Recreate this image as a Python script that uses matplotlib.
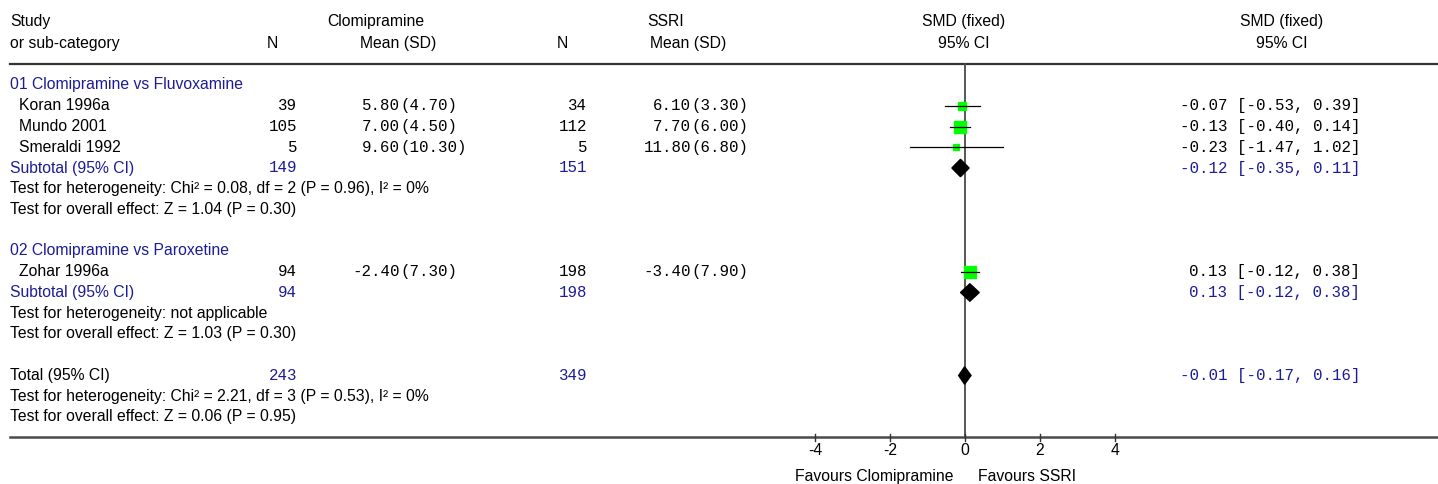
import matplotlib.pyplot as plt
import matplotlib.transforms as mtrans
import numpy as np

# ---- data ----
groups = ["01 Clomipramine vs Fluvoxamine", "02 Clomipramine vs Paroxetine"]
studies = ["Koran 1996a", "Mundo 2001", "Smeraldi 1992", "Zohar 1996a"]
study_group = [0, 0, 0, 1]
clomi_n = [39, 105, 5, 94]
clomi_mean = [5.80, 7.00, 9.60, -2.40]
clomi_sd = [4.70, 4.50, 10.30, 7.30]
ssri_n = [34, 112, 5, 198]
ssri_mean = [6.10, 7.70, 11.80, -3.40]
ssri_sd = [3.30, 6.00, 6.80, 7.90]
smd = [-0.07, -0.13, -0.23, 0.13]
smd_lo = [-0.53, -0.40, -1.47, -0.12]
smd_hi = [0.39, 0.14, 1.02, 0.38]

sub_smd = [-0.12, 0.13]
sub_lo = [-0.35, -0.12]
sub_hi = [0.11, 0.38]
sub_het = ["Test for heterogeneity: Chi\u00b2 = 0.08, df = 2 (P = 0.96), I\u00b2 = 0%",
           "Test for heterogeneity: not applicable"]
sub_eff = ["Test for overall effect: Z = 1.04 (P = 0.30)",
           "Test for overall effect: Z = 1.03 (P = 0.30)"]

total_smd, total_lo, total_hi = -0.01, -0.17, 0.16
total_het = "Test for heterogeneity: Chi\u00b2 = 2.21, df = 3 (P = 0.53), I\u00b2 = 0%"
total_eff = "Test for overall effect: Z = 0.06 (P = 0.95)"

ticks = [-4, -2, 0, 2, 4]

# ---- styling ----
W, H = 1438, 484
SANS = "Liberation Sans"
MONO = "Liberation Mono"
FS = 11.3
FM = 11.3
BLUE = "#1c1c96"
GREEN = "#00ff00"
GREY = "#4a4a4a"

# pixel layout -> plot units (1 SMD unit = 37.5 px, zero at x=965; 1 row = 20.75 px)
PX_UNIT, X0 = 37.5, 965
ROW_PX, Y0 = 20.75, 85

fig = plt.figure(figsize=(W / 100, H / 100), dpi=100)
ax = fig.add_axes([0, 0, 1, 1])
ax.set_xlim(-X0 / PX_UNIT, (W - X0) / PX_UNIT)
ax.set_ylim((H - Y0) / ROW_PX, -Y0 / ROW_PX)
ax.axis("off")

# x in pixels (axes fraction), y in rows
tr = mtrans.blended_transform_factory(ax.transAxes, ax.transData)


def txt(px, row, s, ha="left", mono=False, color="black"):
    ax.text(px / W, row, s, transform=tr, ha=ha, va="center",
            fontsize=FM if mono else FS, family=MONO if mono else SANS,
            color=color)


def mean_sd(px, row, m, sd):
    # mean right-aligned on the bracket, sd follows
    txt(px, row, f"{m:.2f}", ha="right", mono=True)
    txt(px, row, f"({sd:.2f})", ha="left", mono=True)


def ci_text(row, est, lo, hi, color="black"):
    txt(1360, row, f"{est:.2f} [{lo:.2f}, {hi:.2f}]", ha="right", mono=True, color=color)


def diamond(row, est, lo, hi):
    h = 0.42
    ax.fill([lo, est, hi, est], [row, row - h, row, row + h], color="black", zorder=4)


# headers
txt(10, -3.08, "Study")
txt(10, -2.02, "or sub-category")
txt(272, -2.02, "N", ha="center")
txt(376, -3.08, "Clomipramine", ha="center")
txt(398, -2.02, "Mean (SD)", ha="center")
txt(562, -2.02, "N", ha="center")
txt(666, -3.08, "SSRI", ha="center")
txt(688, -2.02, "Mean (SD)", ha="center")
txt(964, -3.08, "SMD (fixed)", ha="center")
txt(964, -2.02, "95% CI", ha="center")
txt(1282, -3.08, "SMD (fixed)", ha="center")
txt(1282, -2.02, "95% CI", ha="center")

# fixed-effect weights from the sample sizes -> square size
n1 = np.array(clomi_n, float)
n2 = np.array(ssri_n, float)
d = np.array(smd)
var = (n1 + n2) / (n1 * n2) + d ** 2 / (2 * (n1 + n2))
wpct = 100 * (1 / var) / np.sum(1 / var)
side_pt = (5 + 1.1 * np.sqrt(wpct)) * 0.72

row = 0
for g, gname in enumerate(groups):
    txt(10, row, gname, color=BLUE)
    row += 1
    idx = [i for i in range(len(studies)) if study_group[i] == g]
    for i in idx:
        txt(19, row, studies[i])
        txt(297, row, str(clomi_n[i]), ha="right", mono=True)
        mean_sd(400, row, clomi_mean[i], clomi_sd[i])
        txt(587, row, str(ssri_n[i]), ha="right", mono=True)
        mean_sd(691, row, ssri_mean[i], ssri_sd[i])
        ax.plot([smd[i]], [row], marker="s", ms=side_pt[i], color=GREEN,
                mec=GREEN, zorder=2)
        ax.plot([smd_lo[i], smd_hi[i]], [row, row], color="black", lw=0.9, zorder=3)
        ci_text(row, smd[i], smd_lo[i], smd_hi[i])
        row += 1
    txt(10, row, "Subtotal (95% CI)", color=BLUE)
    txt(297, row, str(sum(clomi_n[i] for i in idx)), ha="right", mono=True, color=BLUE)
    txt(587, row, str(sum(ssri_n[i] for i in idx)), ha="right", mono=True, color=BLUE)
    diamond(row, sub_smd[g], sub_lo[g], sub_hi[g])
    ci_text(row, sub_smd[g], sub_lo[g], sub_hi[g], color=BLUE)
    row += 1
    txt(10, row, sub_het[g])
    row += 1
    txt(10, row, sub_eff[g])
    row += 2

txt(10, row, "Total (95% CI)")
txt(297, row, str(sum(clomi_n)), ha="right", mono=True, color=BLUE)
txt(587, row, str(sum(ssri_n)), ha="right", mono=True, color=BLUE)
diamond(row, total_smd, total_lo, total_hi)
ci_text(row, total_smd, total_lo, total_hi, color=BLUE)
txt(10, row + 1, total_het)
txt(10, row + 2, total_eff)
bottom = row + 2.96

# rules and axis
ax.plot([10 / W, 1], [-1.01, -1.01], transform=tr, color="#333333", lw=1.6, zorder=1)
ax.plot([10 / W, 1], [bottom, bottom], transform=tr, color=GREY, lw=1.8, zorder=1)
ax.plot([0, 0], [-1.01, bottom], color=GREY, lw=1.3, zorder=1)
for t in ticks:
    ax.plot([t, t], [bottom - 0.12, bottom + 0.18], color="#333333", lw=1.0)
    ax.text(t, bottom + 0.65, f"{t}", ha="center", va="center", fontsize=FS, family=SANS)

ax.text(-12 / PX_UNIT, bottom + 1.93, "Favours Clomipramine", ha="right", va="center",
        fontsize=FS, family=SANS)
ax.text(13 / PX_UNIT, bottom + 1.93, "Favours SSRI", ha="left", va="center",
        fontsize=FS, family=SANS)

fig.savefig("out.png", dpi=100)
